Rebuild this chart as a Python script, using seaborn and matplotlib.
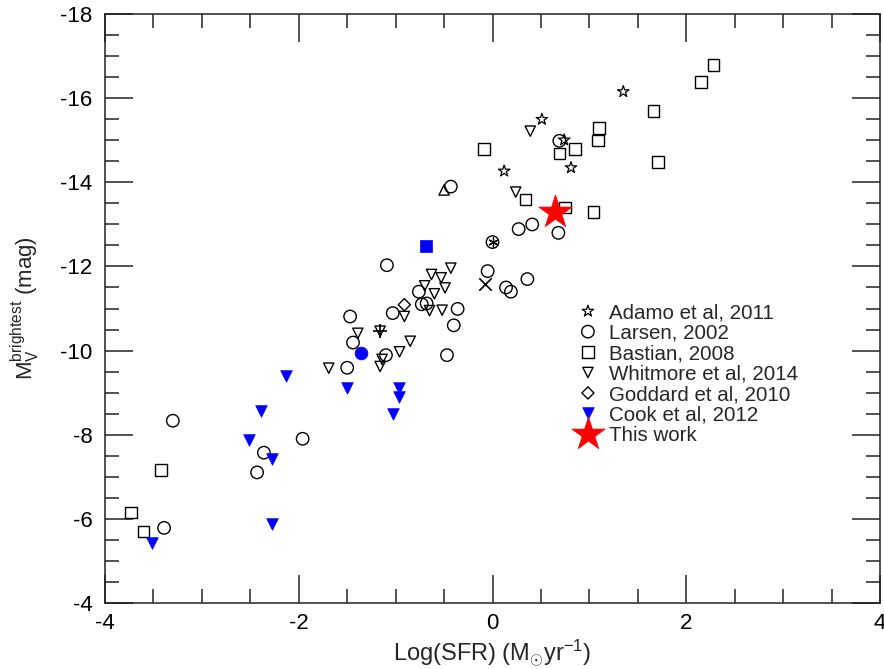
import matplotlib
matplotlib.use("Agg")
import matplotlib.pyplot as plt
import seaborn as sns
from matplotlib.ticker import MultipleLocator

# ---------------- data (log SFR, M_V brightest) ----------------
adamo_x = [1.35, 0.51, 0.12, 0.74, 0.81]
adamo_y = [-16.16, -15.50, -14.27, -15.01, -14.35]

larsen_x = [-0.43, -1.09, 0.69, 0.27, 0.41, 0.68, -0.05, 0.36, 0.14, 0.19,
            -0.76, -0.73, -0.68, -0.36, -0.40, -0.47, -1.03, -1.47, -1.44, -1.10,
            -1.50, -3.30, -1.96, -2.36, -2.43, -3.39, 0.00]
larsen_y = [-13.90, -12.03, -14.99, -12.89, -13.00, -12.80, -11.89, -11.70, -11.50, -11.40,
            -11.40, -11.10, -11.12, -10.99, -10.60, -9.89, -10.89, -10.81, -10.19, -9.89,
            -9.59, -8.33, -7.90, -7.57, -7.10, -5.78, -12.58]

bastian_x = [2.28, 2.15, 1.66, 1.10, 1.09, 0.85, 0.69, -0.09, 1.71, 0.34, 0.75, 1.04,
             -3.42, -3.73, -3.60]
bastian_y = [-16.79, -16.39, -15.70, -15.29, -15.00, -14.80, -14.69, -14.80, -14.49, -13.59,
             -13.40, -13.30, -7.16, -6.14, -5.70]

whitmore_x = [0.39, 0.24, -0.43, -0.63, -0.53, -0.70, -0.49, -0.60, -0.65, -0.52,
              -0.91, -1.39, -1.16, -0.85, -0.96, -1.14, -1.16, -1.69]
whitmore_y = [-15.22, -13.77, -11.96, -11.81, -11.73, -11.54, -11.49, -11.35, -10.95, -10.96,
              -10.81, -10.41, -10.46, -10.22, -9.97, -9.79, -9.62, -9.58]

goddard_x = [-0.91]
goddard_y = [-11.09]

cook_x = [-2.13, -1.50, -0.97, -0.97, -1.03, -2.39, -2.51, -2.28, -2.28, -3.52]
cook_y = [-9.39, -9.12, -9.10, -8.90, -8.49, -8.56, -7.87, -7.43, -5.87, -5.41]
cook_circle_x = [-1.36]
cook_circle_y = [-9.93]
cook_square_x = [-0.69]
cook_square_y = [-12.49]

this_x = [0.64]
this_y = [-13.30]

# other unlabelled symbols
up_tri_x = [-0.50]
up_tri_y = [-13.82]
cross_x = [-0.08]
cross_y = [-11.58]
plus_x = [-1.16]
plus_y = [-10.46]
aster_x = [0.00]
aster_y = [-12.58]

legend_labels = ["Adamo et al, 2011", "Larsen, 2002", "Bastian, 2008",
                 "Whitmore et al, 2014", "Goddard et al, 2010", "Cook et al, 2012",
                 "This work"]

# ---------------- style ----------------
sns.set_theme(style="ticks")
plt.rcParams["font.family"] = ["Liberation Sans", "DejaVu Sans"]
plt.rcParams["axes.unicode_minus"] = False
plt.rcParams["mathtext.fontset"] = "custom"
plt.rcParams["mathtext.rm"] = "Liberation Sans"
plt.rcParams["mathtext.it"] = "Liberation Sans:italic"
plt.rcParams["mathtext.sf"] = "Liberation Sans"

fig = plt.figure(figsize=(8.84, 6.69), dpi=100)
ax = fig.add_axes([105 / 884, 1 - 602.7 / 669, 775 / 884, 588.4 / 669])


def pts(x, y, marker, s, fc, ec, lw, label=None, z=3):
    sns.scatterplot(x=x, y=y, marker=marker, s=s, facecolor=fc, edgecolor=ec,
                    linewidth=lw, label=label, ax=ax, zorder=z, legend=False)
    return ax.collections[-1]


h_adamo = pts(adamo_x, adamo_y, "*", 75, "none", "black", 0.9, legend_labels[0])
h_larsen = pts(larsen_x, larsen_y, "o", 80, "none", "black", 1.0, legend_labels[1])
h_bastian = pts(bastian_x, bastian_y, "s", 68, "none", "black", 1.0, legend_labels[2])
h_whit = pts(whitmore_x, whitmore_y, "v", 55, "none", "black", 1.0, legend_labels[3])
h_god = pts(goddard_x, goddard_y, "D", 38, "none", "black", 1.0, legend_labels[4])
h_cook = pts(cook_x, cook_y, "v", 70, "blue", "blue", 0.5, legend_labels[5])
pts(cook_circle_x, cook_circle_y, "o", 85, "blue", "blue", 0.5)
pts(cook_square_x, cook_square_y, "s", 85, "blue", "blue", 0.5)
pts(up_tri_x, up_tri_y, "^", 55, "none", "black", 1.0)
pts(cross_x, cross_y, "x", 80, "black", None, 1.2)
pts(plus_x, plus_y, "+", 90, "black", None, 1.2)
pts(aster_x, aster_y, (6, 2, 0), 45, "black", None, 0.9)
h_this = pts(this_x, this_y, "*", 640, "red", "red", 0.5, legend_labels[6], z=5)

# ---------------- axes ----------------
ax.set_xlim(-4, 4)
ax.set_ylim(-4, -18)
ax.xaxis.set_major_locator(MultipleLocator(2))
ax.xaxis.set_minor_locator(MultipleLocator(0.5))
ax.yaxis.set_major_locator(MultipleLocator(2))
ax.yaxis.set_minor_locator(MultipleLocator(0.5))
ax.tick_params(which="both", direction="in", top=True, right=True,
               colors="#222222", width=1.1, labelsize=16, labelcolor="black")
ax.tick_params(which="major", length=20)
ax.tick_params(which="minor", length=10)
ax.tick_params(axis="x", which="major", pad=7.5)
ax.tick_params(axis="y", which="major", pad=9)
for sp in ax.spines.values():
    sp.set_linewidth(1.1)
    sp.set_color("#222222")
ax.grid(False)

ax.set_xlabel(r"Log(SFR) (M$_{\odot}$yr$^{-1}$)", fontsize=17, labelpad=3)
ax.set_ylabel(r"$\mathrm{M}_{\mathrm{V}}^{\mathrm{brightest}}$ (mag)", fontsize=16)
ax.yaxis.set_label_coords(-0.081, 0.5)

leg = ax.legend(handles=[h_adamo, h_larsen, h_bastian, h_whit, h_god, h_cook, h_this],
                labels=legend_labels, loc="upper left",
                bbox_to_anchor=(0.6072, 0.5087), frameon=False, fontsize=14.8,
                borderpad=0, borderaxespad=0, labelspacing=0.07,
                handlelength=1.2, handletextpad=0.42, scatteryoffsets=[0.5])

fig.savefig("out.png", dpi=100)
